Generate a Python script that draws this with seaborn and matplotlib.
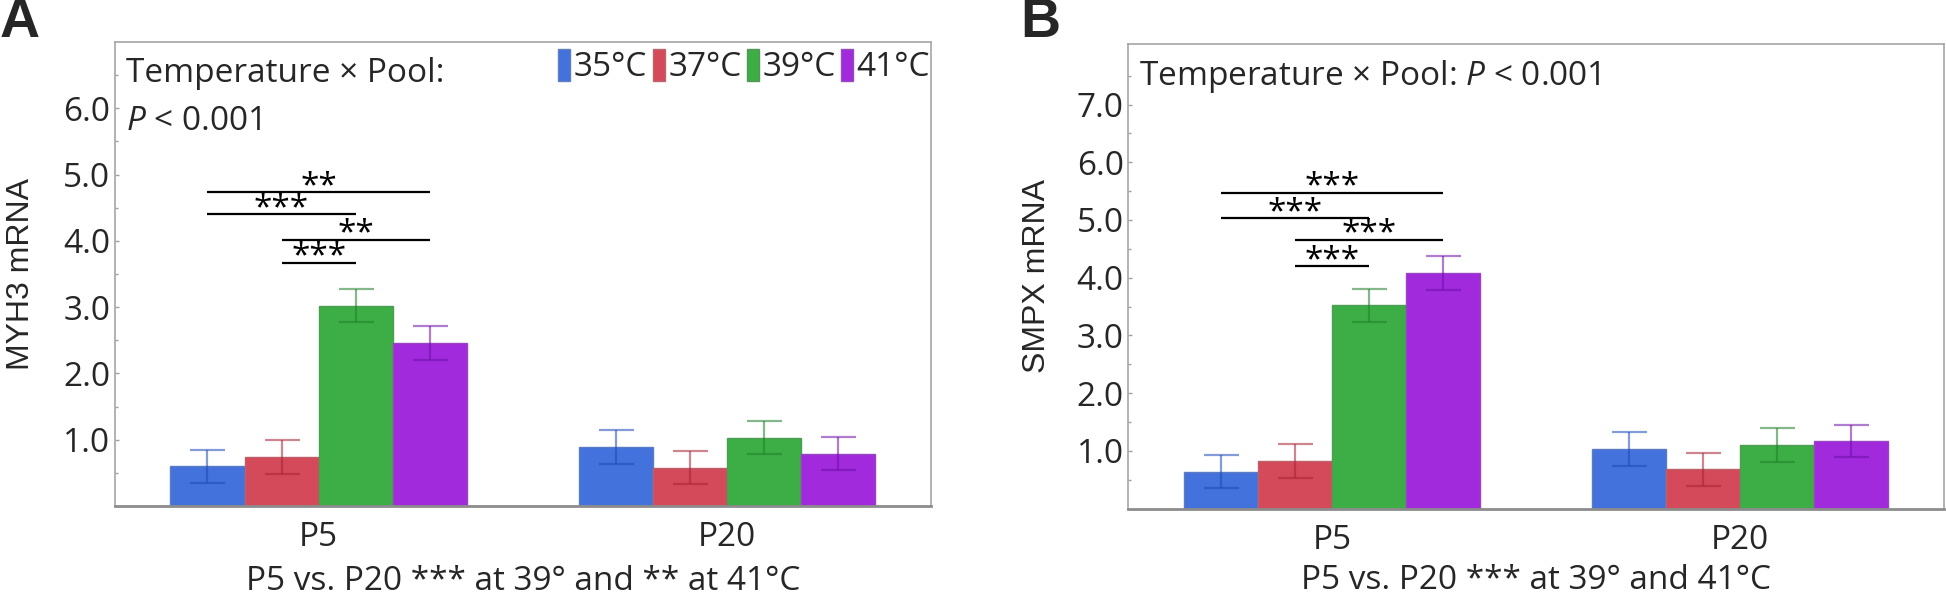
import numpy as np
import pandas as pd
import matplotlib
matplotlib.use("Agg")
import matplotlib.pyplot as plt
from matplotlib.patches import Patch
import seaborn as sns

# ---------------- data ----------------
pools = ["P5", "P20"]
temps = ["35°C", "37°C", "39°C", "41°C"]
colors = ["#4472DC", "#D44A5A", "#3DAE46", "#A12ADD"]
err_colors = ["#1f49b8", "#a82236", "#1f7f2a", "#6d10a8"]

myh3_p5 = [0.60, 0.74, 3.02, 2.46]
myh3_p20 = [0.89, 0.58, 1.03, 0.79]
myh3_err_p5 = [0.25, 0.25, 0.25, 0.25]
myh3_err_p20 = [0.25, 0.25, 0.25, 0.25]

smpx_p5 = [0.64, 0.82, 3.52, 4.08]
smpx_p20 = [1.03, 0.68, 1.10, 1.17]
smpx_err_p5 = [0.29, 0.29, 0.28, 0.30]
smpx_err_p20 = [0.30, 0.29, 0.29, 0.28]

# brackets: (hue index from, hue index to, y, label)
myh3_brackets = [(0, 3, 4.73, "**"), (0, 2, 4.40, "***"), (1, 3, 4.02, "**"), (1, 2, 3.67, "***")]
smpx_brackets = [(0, 3, 5.47, "***"), (0, 2, 5.03, "***"), (1, 3, 4.66, "***"), (1, 2, 4.20, "***")]

myh3_ticks = [1, 2, 3, 4, 5, 6]
smpx_ticks = [1, 2, 3, 4, 5, 6, 7]

FONT = "Open Sans"
FS = 24

sns.set_theme(style="white")
plt.rcParams["font.family"] = [FONT, "DejaVu Sans"]
plt.rcParams["mathtext.fontset"] = "custom"
plt.rcParams["mathtext.it"] = f"{FONT}:italic"
plt.rcParams["mathtext.rm"] = FONT

fig = plt.figure(figsize=(19.46, 5.96), dpi=100)
W, H = 1946, 596


def make_df(p5, p20):
    rows = []
    for t, a, b in zip(temps, p5, p20):
        rows.append({"Pool": "P5", "Temp": t, "val": a})
        rows.append({"Pool": "P20", "Temp": t, "val": b})
    return pd.DataFrame(rows)


def panel(rect, p5, p20, e5, e20, ylim, ticks, ylabel, brackets, xlabel,
          ylab_x, title_text, legend, xlabelpad):
    ax = fig.add_axes(rect)
    df = make_df(p5, p20)
    sns.barplot(data=df, x="Pool", y="val", hue="Temp", order=pools,
                hue_order=temps, palette=colors, width=0.726, saturation=1,
                errorbar=None, legend=False, ax=ax, linewidth=1.0)
    bar_containers = list(ax.containers)
    # error bars
    centers = {}
    for i, cont in enumerate(bar_containers):
        errs = [e5[i], e20[i]]
        for j, bar in enumerate(cont):
            bar.set_edgecolor(sns.desaturate(colors[i], 0.7))
            cx = bar.get_x() + bar.get_width() / 2
            centers[(i, j)] = cx
            ax.errorbar(cx, bar.get_height(), yerr=errs[j], color=err_colors[i],
                        alpha=0.55, capsize=12.6, elinewidth=1.6, capthick=1.6,
                        fmt="none", zorder=3)
    # significance brackets
    for a, b, y, lab in brackets:
        x0, x1 = centers[(a, 0)], centers[(b, 0)]
        ax.plot([x0, x1], [y, y], color="black", lw=1.6, solid_capstyle="butt", zorder=4)
        ax.annotate(lab, xy=((x0 + x1) / 2, y), xytext=(0, -2),
                    textcoords="offset points", ha="center", va="baseline",
                    fontsize=FS, color="black")
    ax.set_xlim(-0.5, 1.5)
    ax.set_ylim(*ylim)
    ax.set_yticks(ticks)
    ax.set_yticklabels([f"{t:.1f}" for t in ticks])
    ax.set_yticks(np.arange(0.5, ylim[1], 1.0), minor=True)
    ax.tick_params(axis="y", which="both", direction="in", length=3, width=1,
                   color="#a0a0a0", pad=3, labelsize=FS, left=True)
    ax.tick_params(axis="y", which="minor", length=2)
    ax.tick_params(axis="x", length=0, pad=11, labelsize=FS)
    for s in ["top", "right", "left"]:
        ax.spines[s].set_color("#a6a6a6")
        ax.spines[s].set_linewidth(1.2)
        ax.spines[s].set_visible(True)
    ax.spines["bottom"].set_color("#8c8c8c")
    ax.spines["bottom"].set_linewidth(2.0)
    ax.spines["bottom"].set_visible(True)
    ax.set_xlabel(xlabel, fontsize=FS, labelpad=xlabelpad)
    ax.set_ylabel(ylabel)
    lab = ax.yaxis.label
    lab.set_fontsize(23)
    lab.set_fontfamily(["Liberation Sans", "DejaVu Sans"])
    lab.set_va("center")
    ax.yaxis.set_label_coords(ylab_x, 0.5)
    for (tx, ty, s) in title_text:
        ax.text(tx, ty, s, transform=ax.transAxes, ha="left", va="center", fontsize=FS)
    if legend:
        handles = [Patch(facecolor=c, edgecolor=sns.desaturate(c, 0.6), lw=1) for c in colors]
        ax.legend(handles, temps, loc="upper right", bbox_to_anchor=(0.999, 0.985),
                  ncol=4, frameon=False, fontsize=FS, handlelength=0.36,
                  handleheight=1.1, handletextpad=0.1, columnspacing=0.17,
                  borderpad=0, borderaxespad=0)
    return ax


axA = panel([114.5 / W, 1 - 506 / H, (931 - 114.5) / W, (506 - 42) / H],
            myh3_p5, myh3_p20, myh3_err_p5, myh3_err_p20, (0, 7.0), myh3_ticks,
            "MYH3 mRNA", myh3_brackets, "P5 vs. P20 *** at 39° and ** at 41°C",
            -0.1145,
            [(0.0135, 0.933, "Temperature × Pool:"), (0.0135, 0.828, "$\\it{P}$ < 0.001")],
            True, 7.5)

axB = panel([1128 / W, 1 - 508.5 / H, (1944 - 1128) / W, (508.5 - 44) / H],
            smpx_p5, smpx_p20, smpx_err_p5, smpx_err_p20, (0, 8.05), smpx_ticks,
            "SMPX mRNA", smpx_brackets, "P5 vs. P20 *** at 39° and 41°C",
            -0.1115,
            [(0.0135, 0.93, "Temperature × Pool: $\\it{P}$ < 0.001")],
            False, 5.5)

fig.text(0 / W, 1 + 3 / H, "A", ha="left", va="top", fontsize=40, fontweight="bold",
         family=["Liberation Sans", "DejaVu Sans"])
fig.text(1020 / W, 1 + 3 / H, "B", ha="left", va="top", fontsize=40, fontweight="bold",
         family=["Liberation Sans", "DejaVu Sans"])

fig.savefig("out.png", dpi=100)
